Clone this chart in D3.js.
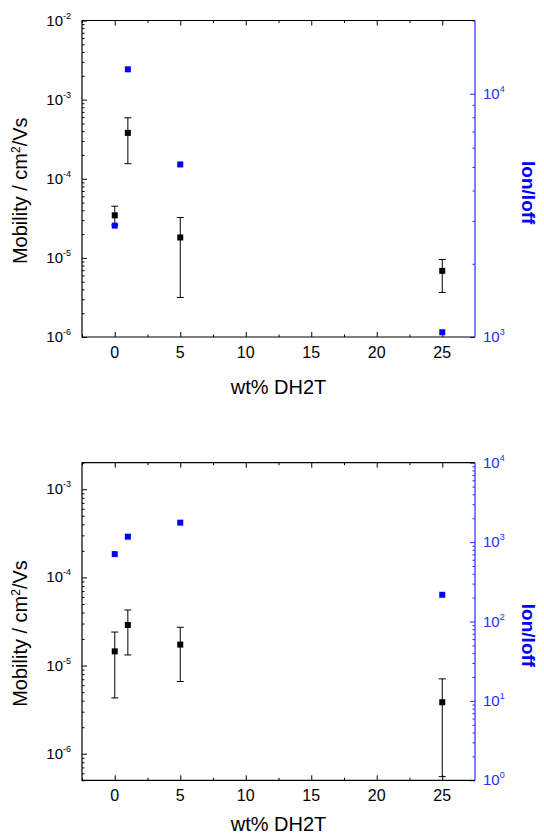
<!DOCTYPE html>
<html>
<head>
<meta charset="utf-8">
<script src="https://cdn.jsdelivr.net/npm/d3@7/dist/d3.min.js"></script>
<style>
  body { margin: 0; background: #fff; }
  svg { display: block; font-family: "Liberation Sans", Arial, sans-serif; }
</style>
</head>
<body>
<svg id="chart" width="544" height="836"></svg>
<script>
// x positions (wt% DH2T)
const wt = [0, 1, 5, 25];
const xTicks = [0, 5, 10, 15, 20, 25];

// top panel
const mobTop = [3.45e-5, 3.8e-4, 1.81e-5, 6.85e-6];
const mobTopHi = [4.5e-5, 5.9e-4, 3.24e-5, 9.55e-6];
const mobTopLo = [2.6e-5, 1.55e-4, 3.16e-6, 3.66e-6];
const ionTop = [2870, 12600, 5120, 1046];
const leftExpTop = [-6, -5, -4, -3, -2];
const rightExpTop = [3, 4];

// bottom panel
const mobBot = [1.45e-5, 2.89e-5, 1.73e-5, 3.84e-6];
const mobBotHi = [2.4e-5, 4.27e-5, 2.72e-5, 7.07e-6];
const mobBotLo = [4.3e-6, 1.32e-5, 6.6e-6, 5.5e-7];
const ionBot = [706, 1170, 1757, 217];
const leftExpBot = [-6, -5, -4, -3];
const rightExpBot = [0, 1, 2, 3, 4];

const svg = d3.select("#chart");
const left = 82, right = 475;
const blue = "#0000ff";
const axisBlue = "#2a2aff";

const x = d3.scaleLinear().domain([-2.5, 27.5]).range([left, right]);

// minor ticks in each decade between the domain ends
function logMinors(domain) {
  const out = [];
  const e0 = Math.floor(Math.log10(domain[0])), e1 = Math.ceil(Math.log10(domain[1]));
  for (let e = e0; e <= e1; e++) {
    for (let k = 2; k <= 9; k++) {
      const v = k * Math.pow(10, e);
      if (v >= domain[0] && v <= domain[1]) out.push(v);
    }
  }
  return out;
}

function supLabel(g, px, py, exp, anchor, color) {
  const t = g.append("text")
    .attr("x", px)
    .attr("y", py + 5)
    .attr("text-anchor", anchor)
    .attr("fill", color)
    .style("font-size", "15px");
  t.append("tspan").text("10");
  t.append("tspan")
    .attr("dy", -7)
    .style("font-size", "9px")
    .text(exp);
}

function panel(top, bottom, leftDomain, rightDomain, leftExp, rightExp, mob, hi, lo, ion, titleGap) {
  const g = svg.append("g");
  const y = d3.scaleLog().domain(leftDomain).range([bottom, top]);
  const y2 = d3.scaleLog().domain(rightDomain).range([bottom, top]);

  const xMinor = xTicks.map((d) => d + 2.5).filter((d) => d < 27.5).concat([-2.5]);

  // bottom & top x axes (ticks inward)
  g.append("g")
    .attr("transform", `translate(0,${bottom})`)
    .call(d3.axisBottom(x).tickValues(xTicks).tickSize(-5).tickFormat(""))
    .call((a) => a.select(".domain").remove());
  g.append("g")
    .attr("transform", `translate(0,${bottom})`)
    .call(d3.axisBottom(x).tickValues(xMinor).tickSize(-2.5).tickFormat(""))
    .call((a) => a.select(".domain").remove());
  g.append("g")
    .attr("transform", `translate(0,${top})`)
    .call(d3.axisTop(x).tickValues(xTicks).tickSize(-5).tickFormat(""))
    .call((a) => a.select(".domain").remove());
  g.append("g")
    .attr("transform", `translate(0,${top})`)
    .call(d3.axisTop(x).tickValues(xMinor).tickSize(-2.5).tickFormat(""))
    .call((a) => a.select(".domain").remove());

  // x tick labels
  g.selectAll(".xlab")
    .data(xTicks)
    .enter()
    .append("text")
    .attr("x", (d) => x(d))
    .attr("y", bottom + 21)
    .attr("text-anchor", "middle")
    .style("font-size", "16px")
    .text((d) => d);

  // left y axis
  g.append("g")
    .attr("transform", `translate(${left},0)`)
    .call(d3.axisLeft(y).tickValues(leftExp.map((e) => Math.pow(10, e))).tickSize(-5).tickFormat(""))
    .call((a) => a.select(".domain").remove());
  g.append("g")
    .attr("transform", `translate(${left},0)`)
    .call(d3.axisLeft(y).tickValues(logMinors(leftDomain)).tickSize(-2.5).tickFormat(""))
    .call((a) => a.select(".domain").remove());
  leftExp.forEach((e) => supLabel(g, left - 11, y(Math.pow(10, e)), e, "end", "#000"));

  // right y axis (blue)
  const r1 = g.append("g")
    .attr("transform", `translate(${right},0)`)
    .call(d3.axisRight(y2).tickValues(rightExp.map((e) => Math.pow(10, e))).tickSize(-5).tickFormat(""));
  r1.select(".domain").remove();
  r1.selectAll("line").attr("stroke", axisBlue);
  const r2 = g.append("g")
    .attr("transform", `translate(${right},0)`)
    .call(d3.axisRight(y2).tickValues(logMinors(rightDomain)).tickSize(-2.5).tickFormat(""));
  r2.select(".domain").remove();
  r2.selectAll("line").attr("stroke", axisBlue);
  rightExp.forEach((e) => supLabel(g, right + 8, y2(Math.pow(10, e)), e, "start", axisBlue));

  // frame
  g.append("path")
    .attr("d", `M${right},${top}H${left}V${bottom}H${right}`)
    .attr("fill", "none")
    .attr("stroke", "#000")
    .attr("stroke-width", 1.2);
  g.append("line")
    .attr("x1", right).attr("x2", right)
    .attr("y1", top).attr("y2", bottom)
    .attr("stroke", axisBlue)
    .attr("stroke-width", 1.2);

  // error bars
  const cap = 3.5;
  const eb = g.selectAll(".err").data(wt).enter().append("g");
  eb.append("line")
    .attr("x1", (d) => x(d)).attr("x2", (d) => x(d))
    .attr("y1", (d, i) => y(hi[i])).attr("y2", (d, i) => y(lo[i]))
    .attr("stroke", "#000");
  eb.append("line")
    .attr("x1", (d) => x(d) - cap).attr("x2", (d) => x(d) + cap)
    .attr("y1", (d, i) => y(hi[i])).attr("y2", (d, i) => y(hi[i]))
    .attr("stroke", "#000");
  eb.append("line")
    .attr("x1", (d) => x(d) - cap).attr("x2", (d) => x(d) + cap)
    .attr("y1", (d, i) => y(lo[i])).attr("y2", (d, i) => y(lo[i]))
    .attr("stroke", "#000");

  // mobility markers
  const s = 6;
  g.selectAll(".mob").data(wt).enter().append("rect")
    .attr("x", (d) => x(d) - s / 2)
    .attr("y", (d, i) => y(mob[i]) - s / 2)
    .attr("width", s).attr("height", s)
    .attr("fill", "#000");

  // Ion/Ioff markers
  g.selectAll(".ion").data(wt).enter().append("rect")
    .attr("x", (d) => x(d) - s / 2)
    .attr("y", (d, i) => y2(ion[i]) - s / 2)
    .attr("width", s).attr("height", s)
    .attr("fill", blue);

  // axis titles
  const mid = (top + bottom) / 2;
  g.append("text")
    .attr("x", (left + right) / 2)
    .attr("y", bottom + titleGap)
    .attr("text-anchor", "middle")
    .style("font-size", "20px")
    .text("wt% DH2T");

  const yt = g.append("text")
    .attr("transform", `translate(27,${mid + 12}) rotate(-90)`)
    .attr("text-anchor", "middle")
    .style("font-size", "20px");
  yt.append("tspan").text("Mobility / cm");
  yt.append("tspan").attr("dy", -7).style("font-size", "12px").text("2");
  yt.append("tspan").attr("dy", 7).text("/Vs");

  g.append("text")
    .attr("transform", `translate(522,${mid + 14}) rotate(90)`)
    .attr("text-anchor", "middle")
    .attr("fill", blue)
    .style("font-size", "19px")
    .style("font-weight", "bold")
    .text("Ion/Ioff");
}

panel(20.5, 337, [1e-6, 1e-2], [1e3, 2e4], leftExpTop, rightExpTop, mobTop, mobTopHi, mobTopLo, ionTop, 57);
panel(462.7, 780.3, [5e-7, 2e-3], [1, 1e4], leftExpBot, rightExpBot, mobBot, mobBotHi, mobBotLo, ionBot, 51);
</script>
</body>
</html>
